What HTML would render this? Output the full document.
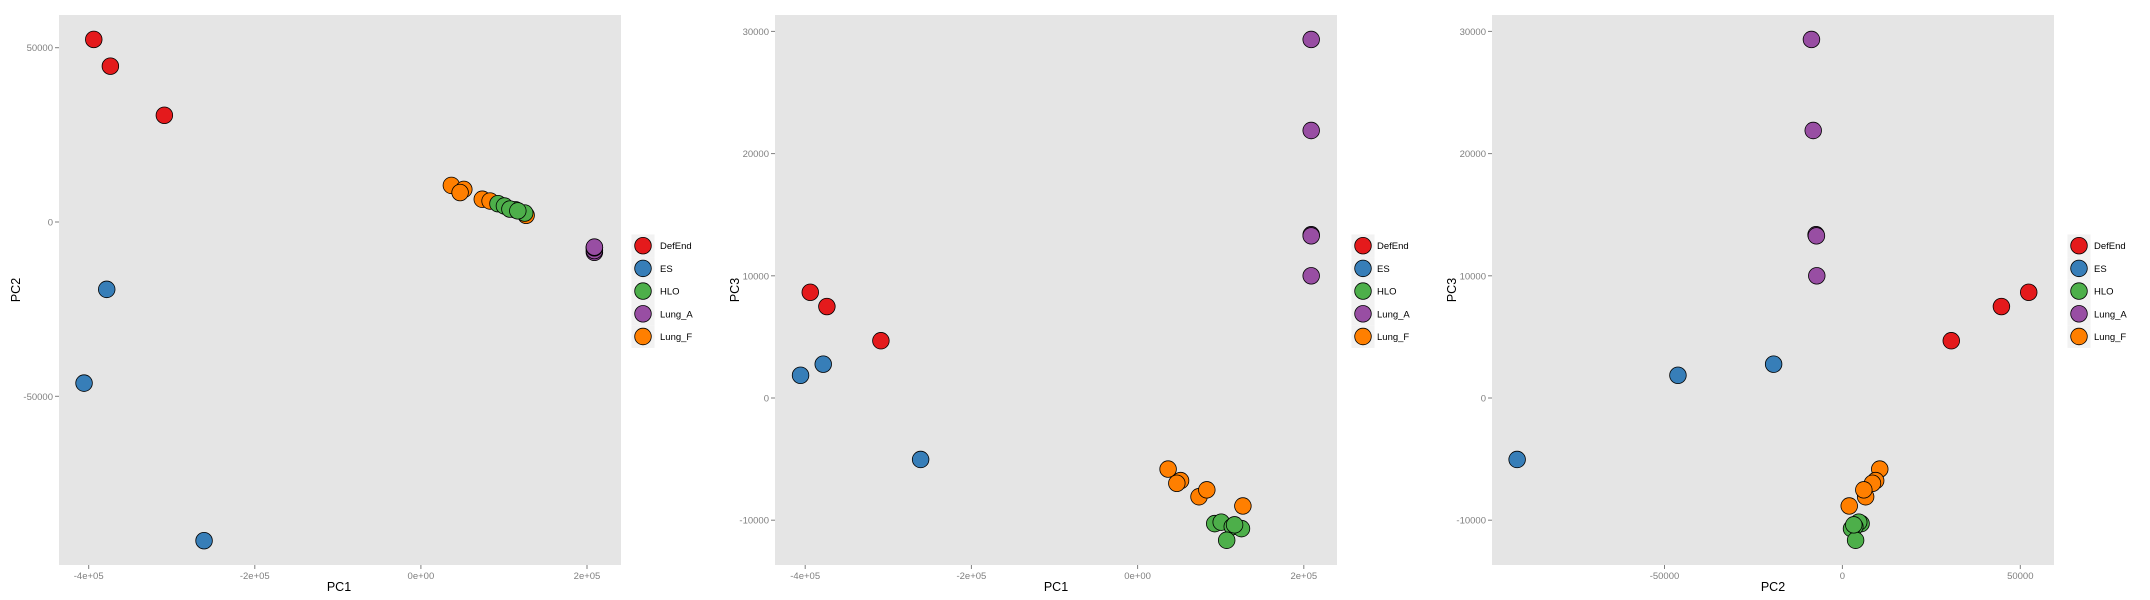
<!DOCTYPE html>
<html><head><meta charset="utf-8">
<style>
html,body{margin:0;padding:0;background:#fff;}
svg{display:block;font-family:"Liberation Sans",sans-serif;}
</style></head>
<body>
<svg id="chart" width="2150" height="600" viewBox="0 0 2150 600" xmlns="http://www.w3.org/2000/svg"></svg>
<script>
const groups = ["DefEnd","ES","HLO","Lung_A","Lung_F"];
const groupColors = ["#E41A1C","#377EB8","#4DAF4A","#984EA3","#FF7F00"];
const sampleGroup = [0,0,0, 1,1,1, 4,4,4,4,4,4, 2,2,2,2,2,2, 3,3,3,3,3];
const pc1 = [-393900,-373900,-308900, -405600,-378300,-261100, 36700,51700,47200,73900,83300,126700, 92800,100600,113900,125000,107200,116700, 208900,208900,208900,208900,208900];
const pc2 = [52370,44690,30600, -46220,-19330,-91420, 10500,9350,8450,6530,6020,1920, 5250,4600,3500,2560,3710,3200, -8700,-8200,-7400,-7300,-7200];
const pc3 = [8648,7484,4686, 1855,2767,-5031, -5818,-6761,-6981,-8082,-7516,-8836, -10280,-10160,-10530,-10690,-11640,-10380, 29340,21890,13360,13270,10000];
const pc1Ticks = [-400000,-200000,0,200000];
const pc1TickLabels = ["-4e+05","-2e+05","0e+00","2e+05"];
const pc2Ticks = [-50000,0,50000];
const pc2TickLabels = ["-50000","0","50000"];
const pc3Ticks = [-10000,0,10000,20000,30000];
const pc3TickLabels = ["-10000","0","10000","20000","30000"];

const NS="http://www.w3.org/2000/svg";
const svg=document.getElementById('chart');
function mk(tag,attrs,parent){const e=document.createElementNS(NS,tag);for(const k in attrs)e.setAttribute(k,attrs[k]);(parent||svg).appendChild(e);return e;}

// panel configs: plot bg box, axis calibration (value->px linear)
const panels=[
 {name:"pc1-vs-pc2",x0:59,x1:621,y0:15,y1:565,xs:pc1,ys:pc2,
  xa:[0,420.9,200000,587.0],ya:[0,222,50000,47.7],
  xt:pc1Ticks,xtl:pc1TickLabels,yt:pc2Ticks,ytl:pc2TickLabels,xlab:"PC1",ylab:"PC2",
  xlabX:339,ylabX:16,legX:643,textX:660},
 {name:"pc1-vs-pc3",x0:775,x1:1337,y0:15,y1:565,xs:pc1,ys:pc3,
  xa:[0,1137.6,200000,1303.8],ya:[0,398,10000,275.8],
  xt:pc1Ticks,xtl:pc1TickLabels,yt:pc3Ticks,ytl:pc3TickLabels,xlab:"PC1",ylab:"PC3",
  xlabX:1056,ylabX:735,legX:1363,textX:1377},
 {name:"pc2-vs-pc3",x0:1492,x1:2054,y0:15,y1:565,xs:pc2,ys:pc3,
  xa:[0,1842.4,50000,2020.3],ya:[0,398,10000,275.8],
  xt:pc2Ticks,xtl:pc2TickLabels,yt:pc3Ticks,ytl:pc3TickLabels,xlab:"PC2",ylab:"PC3",
  xlabX:1773,ylabX:1452,legX:2079,textX:2094}
];

panels.forEach(p=>{
  const sx=v=>p.xa[1]+(v-p.xa[0])/(p.xa[2]-p.xa[0])*(p.xa[3]-p.xa[1]);
  const sy=v=>p.ya[1]+(v-p.ya[0])/(p.ya[2]-p.ya[0])*(p.ya[3]-p.ya[1]);
  const g=mk('g',{});
  
  
  const bg=mk('rect',{x:p.x0,y:p.y0,width:p.x1-p.x0,height:p.y1-p.y0,fill:'#E5E5E5'},g);
  
  
  p.xt.forEach((t,i)=>{
    const x=sx(t);
    const tk=mk('line',{x1:x,x2:x,y1:p.y1,y2:p.y1+4,stroke:'#7f7f7f','stroke-width':1},g);
    
    
    const tl=mk('text',{x:x,y:p.y1+14,'font-size':9.5,fill:'#7f7f7f','text-anchor':'middle'},g);
    tl.textContent=p.xtl[i];
    
    
  });
  p.yt.forEach((t,i)=>{
    const y=sy(t);
    const tk=mk('line',{x1:p.x0-4,x2:p.x0,y1:y,y2:y,stroke:'#7f7f7f','stroke-width':1},g);
    
    
    const tl=mk('text',{x:p.x0-6,y:y+3.5,'font-size':9.5,fill:'#7f7f7f','text-anchor':'end'},g);
    tl.textContent=p.ytl[i];
    
    
  });
  const xl=mk('text',{x:p.xlabX,y:591,'font-size':12.5,fill:'#000','text-anchor':'middle'},g);
  xl.textContent=p.xlab;
  
  
  const yl=mk('text',{x:0,y:0,'font-size':12.5,fill:'#000','text-anchor':'middle',transform:`translate(${p.ylabX+4},290) rotate(-90)`},g);
  yl.textContent=p.ylab;
  
  
  for(let i=0;i<p.xs.length;i++){
    const c=mk('circle',{cx:sx(p.xs[i]),cy:sy(p.ys[i]),r:8.3,fill:groupColors[sampleGroup[i]],stroke:'#000','stroke-width':0.8},g);
    
    
  }
  groups.forEach((gn,k)=>{
    const cy=245.7+k*22.7;
    const key=mk('rect',{x:p.legX-11.5,y:cy-11.3,width:23,height:22.7,fill:'#F2F2F2'},g);
    
    
    const c=mk('circle',{cx:p.legX,cy:cy,r:8.3,fill:groupColors[k],stroke:'#000','stroke-width':0.8},g);
    
    
    const t=mk('text',{x:p.textX,y:cy+3.5,'font-size':9.5,fill:'#000'},g);
    t.textContent=gn;
    
    
  });
});
</script>
</body></html>
